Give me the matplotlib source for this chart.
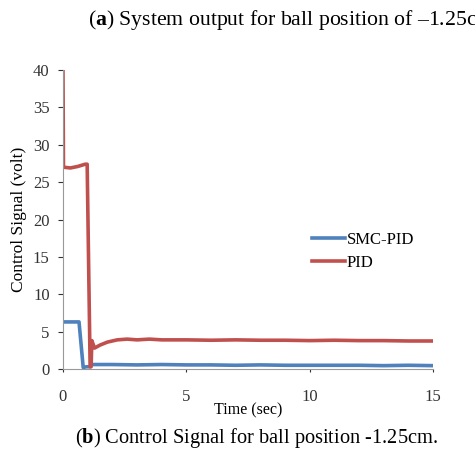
import numpy as np
import matplotlib.pyplot as plt

plt.rcParams['font.family'] = ['Liberation Serif', 'DejaVu Serif']
plt.rcParams['mathtext.fontset'] = 'custom'
plt.rcParams['mathtext.rm'] = 'Liberation Serif'
plt.rcParams['mathtext.bf'] = 'Liberation Serif:bold'

# SMC-PID control signal (volt) vs time (sec)
t_smc = [0, 0.3, 0.65, 0.82, 0.95, 1.1, 1.15, 2, 3, 4, 5, 6, 7, 8, 9, 10, 11, 12, 13, 14, 15]
u_smc = [6.3, 6.3, 6.3, 0.2, 0.3, 0.3, 0.6, 0.6, 0.55, 0.6, 0.55, 0.55, 0.5, 0.55, 0.5, 0.5,
         0.5, 0.5, 0.45, 0.5, 0.45]

# PID control signal
t_pid = [0, 0.02, 0.3, 0.6, 0.9, 0.98, 1.1, 1.14, 1.17, 1.28, 1.5, 1.8, 2.2, 2.6, 3.0, 3.5,
         4, 5, 6, 7, 8, 9, 10, 11, 12, 13, 14, 15]
u_pid = [40, 27, 26.9, 27.1, 27.4, 27.4, 0.3, 0.3, 3.8, 2.8, 3.2, 3.6, 3.9, 4.0, 3.9, 4.0,
         3.9, 3.9, 3.85, 3.9, 3.85, 3.85, 3.8, 3.85, 3.8, 3.8, 3.75, 3.75]

fig = plt.figure(figsize=(4.75, 4.53), dpi=100)
ax = fig.add_axes([0.1326, 0.1854, 0.779, 0.660])

ax.plot(t_smc, u_smc, color='#4F81BD', lw=2.6, label='SMC-PID')
ax.plot(t_pid, u_pid, color='#C0504D', lw=2.6, label='PID')

ax.set_xlim(0, 15)
ax.set_ylim(0, 40)
ax.set_xticks([0, 5, 10, 15])
ax.set_yticks(range(0, 41, 5))
ax.tick_params(labelsize=12, colors='#333333', width=0.8)
ax.tick_params(axis='y', length=3.6, pad=6)
ax.tick_params(axis='x', length=2.5, pad=12)
for s in ['top', 'right']:
    ax.spines[s].set_visible(False)
for s in ['left', 'bottom']:
    ax.spines[s].set_color('#999999')

ax.set_ylabel('Control Signal (volt)', fontsize=12.5, labelpad=4)
ax.set_xlabel('Time (sec)', fontsize=11.5, labelpad=-2)

ax.legend(loc='upper left', bbox_to_anchor=(0.632, 0.51), frameon=False,
          fontsize=12, handlelength=2.0, handletextpad=0.1, labelspacing=0.45)

fig.text(88 / 475, 1 - 20 / 453, '($\\mathbf{a}$) System output for ball position of \u20131.25cm',
         fontsize=15.7, va='center', ha='left')
fig.text(75 / 475, 1 - 438 / 453, '($\\mathbf{b}$) Control Signal for ball position -1.25cm.',
         fontsize=14.7, va='center', ha='left')

fig.savefig('out.png', dpi=100)
